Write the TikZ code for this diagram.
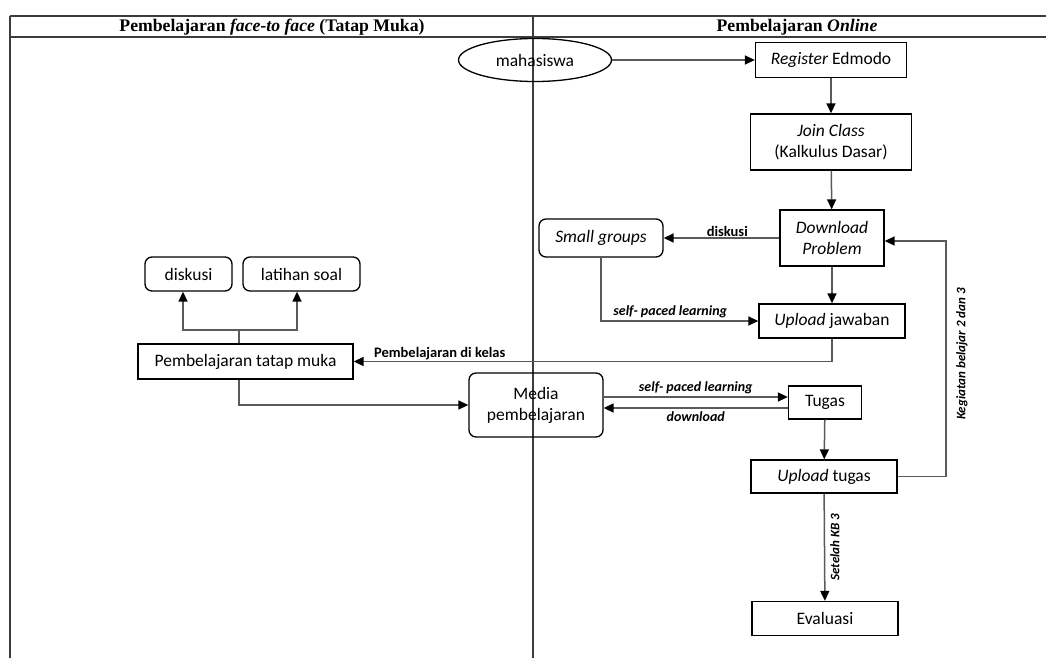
\documentclass[tikz,border=0pt]{standalone}
\usepackage{fontspec}
\setmainfont{Carlito}
\newfontfamily\headfont{Liberation Serif}
\usetikzlibrary{arrows.meta,shapes.geometric}
\definecolor{linegray}{HTML}{5A5A5A}
\definecolor{tablegray}{HTML}{3C3C3C}
\tikzset{
  box/.style={draw=black,line width=1.3pt,minimum height=34pt,inner sep=0pt,
              align=center,font=\fontsize{17.5}{21}\selectfont},
  rbox/.style={box,rounded corners=7pt},
  conn/.style={draw=linegray,line width=1.5pt},
  arr/.style={conn,-{Triangle[length=10pt,width=9pt,color=black]}},
  lbl/.style={font=\fontsize{14.5}{16}\selectfont\bfseries,inner sep=1pt},
  ilbl/.style={font=\fontsize{14}{16}\selectfont\bfseries\itshape,inner sep=1pt},
  rlbl/.style={font=\fontsize{13}{15}\selectfont\bfseries\itshape,inner sep=1pt},
  head/.style={font=\headfont\bfseries\fontsize{17.7}{20}\selectfont,inner sep=0pt}
}

\begin{document}
\begin{tikzpicture}[x=1pt,y=-1pt]
            \useasboundingbox (0,0) rectangle (1046,658);
            % table
            \draw[tablegray,line width=1.5pt] (10,16) -- (1046,16);
            \draw[tablegray,line width=1.5pt] (10,37) -- (1046,37);
            \draw[tablegray,line width=1.5pt] (10,16) -- (10,658);
            \draw[tablegray,line width=1.5pt] (533,16) -- (533,658);
            \node[head] (headtm) at (272,27) {Pembelajaran \textit{face-to face} (Tatap Muka)};
            \node[head] (headol) at (797,27) {Pembelajaran \textit{Online}};
            % online
            \node[box,ellipse,minimum width=153pt,minimum height=43pt] (mhs) at (535,60) {mahasiswa};
            \node[box,minimum width=151pt,minimum height=35pt] (reg) at (831,60) {\textit{Register} Edmodo};
            \node[box,minimum width=161pt,minimum height=56pt] (join) at (831,142) {\textit{Join Class}\\(Kalkulus Dasar)};
            \node[box,minimum width=104pt,minimum height=56pt] (down) at (832,238) {\textit{Download}\\\textit{Problem}};
            \node[rbox,minimum width=124pt,minimum height=38pt] (small) at (601,238) {\textit{Small groups}};
            \node[box,minimum width=146pt] (upj) at (832,321) {\textit{Upload} jawaban};
            \node[rbox,minimum width=134pt,minimum height=64pt] (media) at (536,405) {Media\\pembelajaran};
            \node[box,minimum width=73pt,minimum height=33pt] (tugas) at (825,402.5) {Tugas};
            \node[box,minimum width=146pt,minimum height=33pt] (upt) at (824,476.5) {\textit{Upload} tugas};
            \node[box,minimum width=146pt] (eval) at (825,618.5) {Evaluasi};
            % tatap muka
            \node[box,minimum width=215pt,minimum height=35pt] (ptm) at (245.5,361.5) {Pembelajaran tatap muka};
            \node[rbox,minimum width=87pt] (disk) at (188.5,274) {diskusi};
            \node[rbox,minimum width=117pt] (lat) at (301.5,274) {latihan soal};
            % connectors
            \draw[arr] (mhs) -- (reg);
            \draw[arr] (reg) -- (join);
            \draw[arr] (join) -- (down);
            \draw[arr] (down) -- (small) node[lbl,pos=0.45,above=0pt] {diskusi};
            \draw[arr] (down) -- (upj);
            \draw[arr] (small.south) |- (upj.west) node[ilbl,pos=0.72,above=1pt] {self- paced learning};
            \draw[arr] (upj.south) |- (ptm.east) node[lbl,pos=0.91,above=0pt] {Pembelajaran di kelas};
            \coordinate (fork) at (239,330);
            \draw[conn] ([xshift=-6.5pt]ptm.north) -- (fork);
            \draw[arr] (fork) -| ([xshift=-5.5pt]disk.south);
            \draw[arr] (fork) -| ([xshift=-4.5pt]lat.south);
            \draw[arr] ([xshift=-6.5pt]ptm.south) |- (media.west);
            \draw[arr] ([yshift=8pt]media.east) -- ([yshift=8pt]media.east -| tugas.west)
                node[ilbl,midway,above=1pt] {self- paced learning};
            \draw[arr] ([yshift=-3pt]media.east -| tugas.west) -- ([yshift=-3pt]media.east)
                node[ilbl,midway,below=2pt] {download};
            \draw[arr] (tugas) -- (upt);
            \draw[arr] (upt) -- (eval) node[rlbl,midway,right=4pt,rotate=90,anchor=north] {Setelah KB 3};
            \coordinate (kb) at (946,241);
            \draw[arr] (upt.east) -| (kb) -- (kb -| down.east);
            \node[rlbl,rotate=90] (kblbl) at (962,354) {Kegiatan belajar 2 dan 3};
\end{tikzpicture}
\end{document}
